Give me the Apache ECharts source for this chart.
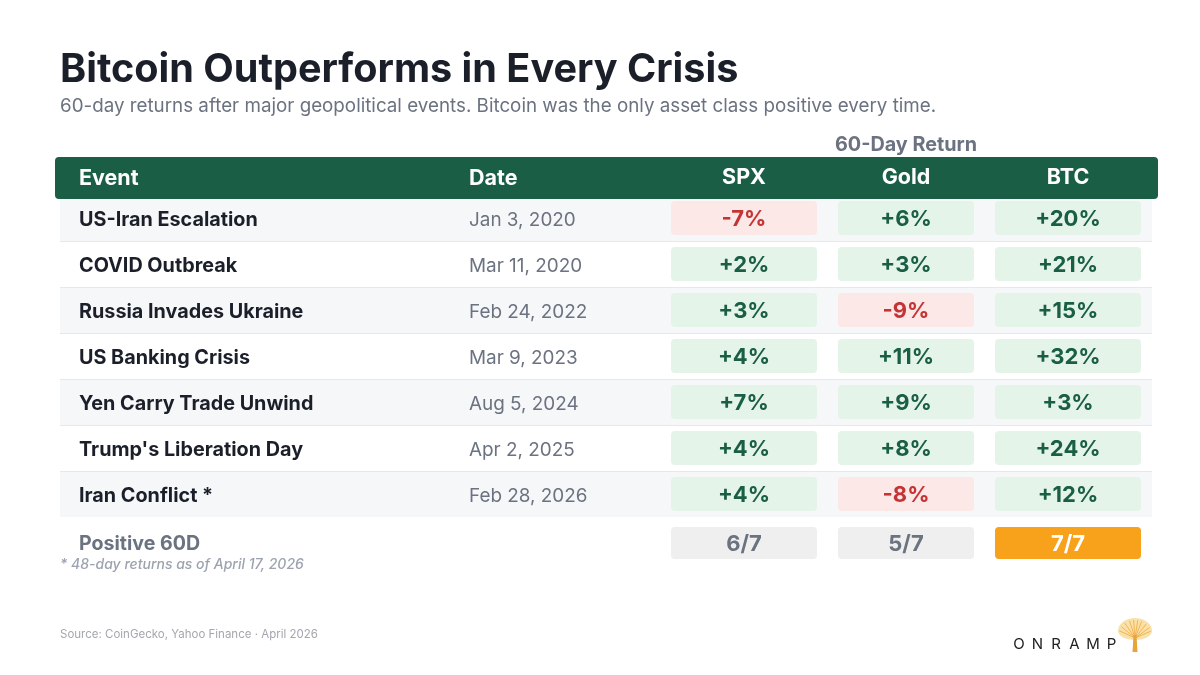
<!DOCTYPE html>
<html><head><meta charset="utf-8">
<script src="https://cdn.jsdelivr.net/npm/echarts/dist/echarts.min.js"></script>
<style>html,body{margin:0;padding:0;background:#fff}#c{width:1200px;height:675px}</style>
</head><body><div id="c"></div>
<script>
// ---- data ----
const events = ['US-Iran Escalation','COVID Outbreak','Russia Invades Ukraine','US Banking Crisis','Yen Carry Trade Unwind',"Trump's Liberation Day",'Iran Conflict *'];
const dates = ['Jan 3, 2020','Mar 11, 2020','Feb 24, 2022','Mar 9, 2023','Aug 5, 2024','Apr 2, 2025','Feb 28, 2026'];
const assets = ['SPX','Gold','BTC'];
const spx = [-7, 2, 3, 4, 7, 4, 4];
const gold = [6, 3, -9, 11, 9, 8, -8];
const btc = [20, 21, 15, 32, 3, 24, 12];
const summaryLabel = 'Positive 60D';

// ---- build ----
const FONT = 'Inter, "Noto Sans", sans-serif';
const series3 = [spx, gold, btc];
const rows = events.concat([summaryLabel]);
const nRows = events.length;
const cells = [];
series3.forEach((arr, c) => {
  arr.forEach((v, r) => cells.push({c, r, v, kind: 'ret'}));
  const pos = arr.filter(v => v > 0).length;
  cells.push({c, r: nRows, v: pos, kind: 'sum', all: pos === arr.length, n: arr.length});
});
const pillW = [146, 136, 146];
const tableTop = 195, rowH = 46;

// logo tree (decoration)
const tree = [];
(function(){
  const cx = 1135, cy = 631;
  const pts = [];
  for (let a = 0; a < 360; a += 10) {
    const rad = a * Math.PI / 180;
    const ry = Math.sin(rad) < 0 ? 13 : 9;
    pts.push([cx + 17 * Math.cos(rad), cy + ry * Math.sin(rad)]);
  }
  tree.push({type: 'polygon', shape: {points: pts}, style: {fill: '#f8d486', opacity: 0.7}, z: 2});
  [-170,-150,-130,-110,-95,-80,-65,-45,-25,-8].forEach(a => {
    const rad = a * Math.PI / 180;
    tree.push({type: 'line', shape: {x1: cx, y1: cy + 7, x2: cx + 16 * Math.cos(rad), y2: cy + 2 + 13 * Math.sin(rad)}, style: {stroke: '#eeac45', lineWidth: 1, opacity: 0.85}, z: 3});
  });
  tree.push({type: 'polygon', shape: {points: [[cx - 1.5, cy + 4], [cx + 1.5, cy + 4], [cx + 2.5, cy + 21], [cx - 2.5, cy + 21]]}, style: {fill: '#e6a43a'}, z: 3});
})();

const chart = echarts.init(document.getElementById('c'), null, {renderer: 'canvas'});
chart.setOption({
  backgroundColor: '#ffffff',
  animation: false,
  title: {
    text: 'Bitcoin Outperforms in Every Crisis',
    subtext: '60-day returns after major geopolitical events. Bitcoin was the only asset class positive every time.',
    left: 60, top: 50, itemGap: 7, padding: 0,
    textStyle: {fontFamily: FONT, fontSize: 39.6, fontWeight: 700, color: '#1b1f2a'},
    subtextStyle: {fontFamily: FONT, fontSize: 18.8, fontWeight: 400, color: '#6b7280'}
  },
  grid: [
    {left: 60, right: 48, top: tableTop, height: rowH * rows.length},
    {left: 663, width: 486, top: tableTop, height: rowH * rows.length}
  ],
  xAxis: [
    {gridIndex: 0, type: 'category', data: ['row'], show: false},
    {gridIndex: 1, type: 'category', data: assets, position: 'top', z: 10,
     axisLine: {show: false}, axisTick: {show: false},
     axisLabel: {margin: 6, color: '#ffffff', fontFamily: FONT, fontSize: 21.5, fontWeight: 700},
     name: '60-Day Return', nameLocation: 'middle', nameGap: 40,
     nameTextStyle: {fontFamily: FONT, fontSize: 19.8, fontWeight: 700, color: '#6b7280'}}
  ],
  yAxis: [
    {gridIndex: 0, type: 'category', data: rows, inverse: true, z: 0,
     axisLine: {show: false}, axisTick: {show: false}, splitLine: {show: false},
     splitArea: {show: true, areaStyle: {color: ['#f6f7f9', '#ffffff']}},
     axisLabel: {
       inside: true, margin: 19, align: 'left', interval: 0, padding: [4, 0, 0, 0],
       formatter: (val, idx) => idx < nRows ? '{ev|' + val + '}{dt|' + dates[idx] + '}' : '{pos|' + val + '}',
       rich: {
         ev: {width: 390, fontFamily: FONT, fontSize: 19.8, fontWeight: 700, color: '#1b1f2a'},
         dt: {fontFamily: FONT, fontSize: 18.9, fontWeight: 400, color: '#6b7280'},
         pos: {fontFamily: FONT, fontSize: 19.6, fontWeight: 700, color: '#6b7280', padding: [4, 0, 0, 0]}
       }
     }},
    {gridIndex: 1, type: 'category', data: rows, inverse: true, show: false}
  ],
  graphic: [
    {type: 'rect', shape: {x: 55, y: 157, width: 1103, height: 42, r: 4}, style: {fill: '#1a5e46'}, z: 2},
    {type: 'text', x: 79, y: 179, style: {text: 'Event', fill: '#fff', font: '700 21.5px ' + FONT, verticalAlign: 'middle'}, z: 3},
    {type: 'text', x: 469, y: 179, style: {text: 'Date', fill: '#fff', font: '700 21.5px ' + FONT, verticalAlign: 'middle'}, z: 3},
    {type: 'text', x: 60, y: 565, style: {text: '* 48-day returns as of April 17, 2026', fill: '#9ca3af', font: 'italic 500 14px ' + FONT, verticalAlign: 'middle'}, z: 3},
    {type: 'text', x: 60, y: 635, style: {text: 'Source: CoinGecko, Yahoo Finance · April 2026', fill: '#a3a7ae', font: '400 11.5px ' + FONT, verticalAlign: 'middle'}, z: 3},
    ...'ONRAMP'.split('').map((ch, i) => ({type: 'text', x: 1019 + i * 18.5, y: 644, style: {text: ch, fill: '#222222', font: '400 15px ' + FONT, align: 'center', verticalAlign: 'middle'}, z: 3})),
    ...tree
  ],
  series: [{
    type: 'custom',
    name: 'separators',
    xAxisIndex: 0, yAxisIndex: 0, z: 1, silent: true,
    data: events.slice(1).map((e, i) => [0, i + 1]),
    encode: {x: 0, y: 1},
    renderItem: function (params, api) {
      const pt = api.coord([api.value(0), api.value(1)]);
      const sz = api.size([0, 1]);
      const cs = params.coordSys;
      const y = Math.round(pt[1] - sz[1] / 2) + 0.5;
      return {type: 'line', shape: {x1: cs.x, y1: y, x2: cs.x + cs.width, y2: y}, style: {stroke: '#e6e8eb', lineWidth: 1}};
    }
  }, {
    type: 'custom',
    name: 'returns',
    xAxisIndex: 1, yAxisIndex: 1, z: 5,
    data: cells.map(d => [d.c, d.r]),
    encode: {x: 0, y: 1},
    renderItem: function (params, api) {
      const d = cells[params.dataIndex];
      const pt = api.coord([api.value(0), api.value(1)]);
      const w = pillW[d.c];
      let h = 34, cy = pt[1], fill, color, text;
      if (d.kind === 'ret') {
        const neg = d.v < 0;
        fill = neg ? '#fde8e8' : '#e5f4e9';
        color = neg ? '#c53434' : '#1a5e46';
        text = (neg ? '-' : '+') + Math.abs(d.v) + '%';
      } else {
        h = 32; cy += 3;
        fill = d.all ? '#f8a11b' : '#efefef';
        color = d.all ? '#ffffff' : '#6b7280';
        text = d.v + '/' + d.n;
      }
      return {type: 'group', children: [
        {type: 'rect', shape: {x: pt[0] - w / 2, y: cy - h / 2, width: w, height: h, r: 4}, style: {fill: fill}},
        {type: 'text', x: pt[0], y: cy + 1.5, style: {text: text, fill: color, font: '700 22px ' + FONT, align: 'center', verticalAlign: 'middle'}}
      ]};
    }
  }]
});
</script></body></html>
